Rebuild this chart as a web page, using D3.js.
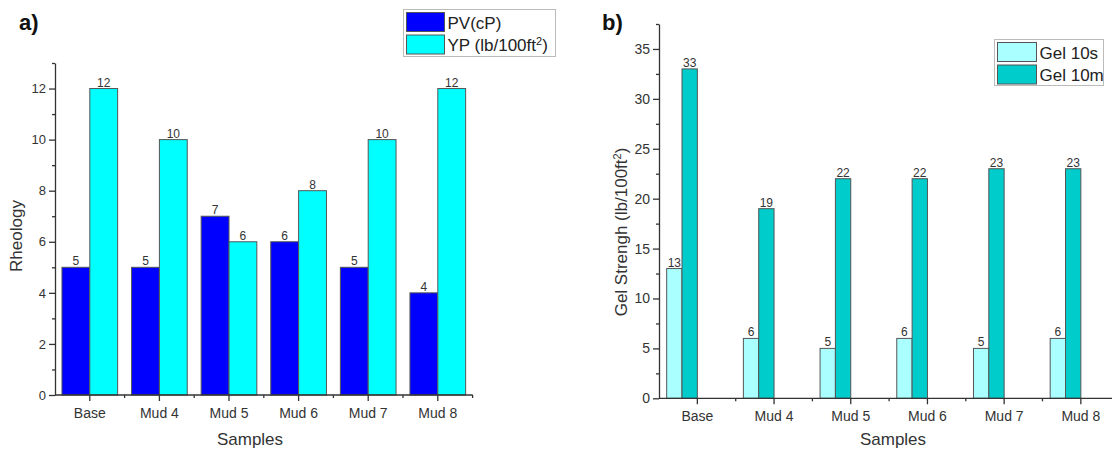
<!DOCTYPE html>
<html>
<head>
<meta charset="utf-8">
<script src="https://cdn.jsdelivr.net/npm/d3@7"></script>
<style>
  body { margin: 0; background: #fff; }
  svg { font-family: Arial, "Liberation Sans", sans-serif; }
  .axis path, .axis line { stroke: #333; stroke-width: 1.3; }
  .axis text { fill: #333; font-size: 14px; }
</style>
</head>
<body>
<svg width="1112" height="451"></svg>
<script>
// data
var samples = ["Base", "Mud 4", "Mud 5", "Mud 6", "Mud 7", "Mud 8"];
var pv = [5, 5, 7, 6, 5, 4];
var yp = [12, 10, 6, 8, 10, 12];
var gel10s = [13, 6, 5, 6, 5, 6];
var gel10m = [33, 19, 22, 22, 23, 23];
var rheoTicks = [0, 2, 4, 6, 8, 10, 12];
var rheoMinor = [1, 3, 5, 7, 9, 11, 13];
var gelTicks = [0, 5, 10, 15, 20, 25, 30, 35];
var gelMinor = [2.5, 7.5, 12.5, 17.5, 22.5, 27.5, 32.5, 37.5];

var svg = d3.select("svg");

function panel(opt) {
  var g = svg.append("g");
  var x = d3.scaleBand().domain(samples).range([opt.x0, opt.x0 + opt.step * samples.length]).padding(0);
  var y = d3.scaleLinear().domain([0, opt.ymax]).range([opt.y0, opt.y1]);
  var bw = opt.step * opt.barFrac;

  // bars
  opt.series.forEach(function(s, si) {
    var off = opt.offsets[si];
    g.selectAll(".bar" + si)
      .data(s.values)
      .enter().append("rect")
        .attr("x", function(d, i) { return x(samples[i]) + x.bandwidth() / 2 + off * bw; })
        .attr("width", bw)
        .attr("y", function(d) { return y(d); })
        .attr("height", function(d) { return y(0) - y(d); })
        .attr("fill", s.color)
        .attr("stroke", "#555")
        .attr("stroke-width", 1);
    g.selectAll(".lab" + si)
      .data(s.values)
      .enter().append("text")
        .attr("x", function(d, i) { return x(samples[i]) + x.bandwidth() / 2 + off * bw + bw / 2; })
        .attr("y", function(d) { return y(d) - 2; })
        .attr("text-anchor", "middle")
        .attr("fill", "#333")
        .style("font-size", "12px")
        .text(function(d) { return d; });
  });

  // y axis
  var ya = g.append("g").attr("class", "axis")
    .attr("transform", "translate(" + opt.x0 + ",0)")
    .call(d3.axisLeft(y).tickValues(opt.ticks).tickSize(6).tickSizeOuter(0));
  ya.selectAll("text").style("font-size", opt.yTickSize);
  g.append("g").attr("class", "axis")
    .attr("transform", "translate(" + opt.x0 + ",0)")
    .call(d3.axisLeft(y).tickValues(opt.minor).tickSize(3).tickFormat("").tickSizeOuter(0))
    .select(".domain").remove();

  // x axis
  var xa = g.append("g").attr("class", "axis")
    .attr("transform", "translate(0," + opt.y0 + ")")
    .call(d3.axisBottom(x).tickSize(6).tickSizeOuter(0).tickPadding(7));
  xa.select(".domain").attr("d", "M" + opt.x0 + ",0H" + opt.xEnd);
  g.selectAll(".xminor")
    .data(samples.slice(1).concat(["end"]))
    .enter().append("line")
      .attr("x1", function(d, i) { return opt.x0 + opt.step * (i + 1); })
      .attr("x2", function(d, i) { return opt.x0 + opt.step * (i + 1); })
      .attr("y1", opt.y0).attr("y2", opt.y0 + 3)
      .attr("stroke", "#333").attr("stroke-width", 1.3);

  // axis titles
  g.append("text")
    .attr("x", opt.xTitleX).attr("y", 445)
    .attr("text-anchor", "middle").attr("fill", "#333")
    .style("font-size", "17px").text("Samples");
  var yt = g.append("text")
    .attr("transform", "translate(" + opt.yTitleX + "," + opt.yTitleY + ") rotate(-90)")
    .attr("text-anchor", "middle").attr("fill", "#333")
    .style("font-size", "17px");
  opt.yTitle(yt);

  // panel letter
  svg.append("text").attr("x", opt.letterX).attr("y", 30)
    .style("font-size", "22px").style("font-weight", "bold").attr("fill", "#111")
    .text(opt.letter);

  // legend
  var lg = svg.append("g");
  lg.append("rect").attr("x", opt.leg.x).attr("y", opt.leg.y)
    .attr("width", opt.leg.w).attr("height", opt.leg.h)
    .attr("fill", "#fff").attr("stroke", "#bbb").attr("stroke-width", 1);
  opt.series.forEach(function(s, si) {
    var yy = opt.leg.y + 3 + si * 22.5;
    lg.append("rect").attr("x", opt.leg.x + 3).attr("y", yy)
      .attr("width", opt.leg.sw).attr("height", 19)
      .attr("fill", s.color).attr("stroke", "#555");
    var t = lg.append("text").attr("x", opt.leg.x + opt.leg.sw + 6).attr("y", yy + 16)
      .attr("fill", "#222").style("font-size", "17px");
    s.label(t);
  });
}

panel({
  x0: 55, step: 69.6, xEnd: 472.7, y0: 395, y1: 63, ymax: 13,
  barFrac: 0.4, offsets: [-1, 0],
  ticks: rheoTicks, minor: rheoMinor, yTickSize: "13px",
  xTitleX: 250, yTitleX: 22, yTitleY: 236,
  letter: "a)", letterX: 19,
  yTitle: function(t) { t.text("Rheology"); },
  leg: { x: 403.5, y: 9.5, w: 152, h: 47, sw: 38 },
  series: [
    { values: pv, color: "#0000ff", label: function(t) { t.text("PV(cP)"); } },
    { values: yp, color: "#00ffff", label: function(t) {
        t.append("tspan").text("YP (lb/100ft");
        t.append("tspan").attr("dy", -6).style("font-size", "11px").text("2");
        t.append("tspan").attr("dy", 6).text(")");
      } }
  ]
});

panel({
  x0: 659, step: 76.7, xEnd: 1112, y0: 398.3, y1: 24, ymax: 37.5,
  barFrac: 0.2, offsets: [-2, -1],
  ticks: gelTicks, minor: gelMinor, yTickSize: "14px",
  xTitleX: 893, yTitleX: 627, yTitleY: 232,
  letter: "b)", letterX: 602,
  yTitle: function(t) {
    t.append("tspan").text("Gel Strengh (lb/100ft");
    t.append("tspan").attr("dy", -6).style("font-size", "11px").text("2");
    t.append("tspan").attr("dy", 6).text(")");
  },
  leg: { x: 994.5, y: 39.5, w: 109, h: 46, sw: 39 },
  series: [
    { values: gel10s, color: "#aaffff", label: function(t) { t.text("Gel 10s"); } },
    { values: gel10m, color: "#00cccc", label: function(t) { t.text("Gel 10m"); } }
  ]
});
</script>
</body>
</html>
